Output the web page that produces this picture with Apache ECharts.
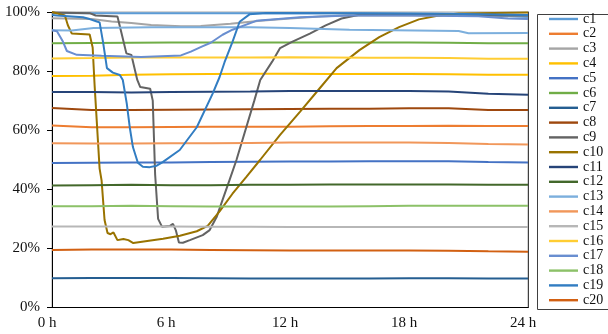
<!DOCTYPE html>
<html><head><meta charset="utf-8">
<script src="https://cdn.jsdelivr.net/npm/echarts@6/dist/echarts.min.js"></script>
<style>html,body{margin:0;padding:0;background:#fff}#c{width:608px;height:334px}</style>
</head><body><div id="c"></div>
<script>
const seriesNames = ['c1','c2','c3','c4','c5','c6','c7','c8','c9','c10','c11','c12','c13','c14','c15','c16','c17','c18','c19','c20'];
const xTicks = [0, 6, 12, 18, 24];
const xTickLabels = ['0 h', '6 h', '12 h', '18 h', '24 h'];
const yTicks = [0, 20, 40, 60, 80, 100];
const yTickLabels = ['0%', '20%', '40%', '60%', '80%', '100%'];

// flat series sampled every 2 h
const hoursFlat = [0, 2, 4, 6, 8, 10, 12, 14, 16, 18, 20, 22, 24];
const c1  = [99.7, 99.6, 99.6, 99.6, 99.6, 99.6, 99.6, 99.6, 99.5, 99.4, 99.3, 98.8, 98.3];
const c2  = [61.6, 61.0, 61.0, 61.1, 61.2, 61.2, 61.2, 61.3, 61.4, 61.4, 61.5, 61.4, 61.4];
const c4  = [78.3, 78.4, 78.8, 78.9, 79.0, 79.1, 79.1, 79.0, 79.0, 79.0, 78.9, 78.8, 78.8];
const c5  = [48.9, 49.0, 49.1, 49.1, 49.2, 49.3, 49.4, 49.4, 49.5, 49.5, 49.5, 49.2, 49.1];
const c6  = [89.4, 89.5, 89.6, 89.7, 89.7, 89.7, 89.7, 89.7, 89.7, 89.7, 89.6, 89.4, 89.4];
const c7  = [9.9, 10.0, 10.0, 10.0, 9.9, 9.8, 9.8, 9.8, 9.8, 9.9, 9.9, 9.8, 9.8];
const c8  = [67.5, 66.8, 66.8, 66.9, 67.0, 67.1, 67.2, 67.3, 67.3, 67.4, 67.4, 66.8, 66.8];
const c11 = [72.9, 72.9, 72.8, 72.9, 73.0, 73.1, 73.3, 73.3, 73.3, 73.3, 73.1, 72.3, 72.0];
const c12 = [41.3, 41.4, 41.5, 41.4, 41.4, 41.5, 41.5, 41.6, 41.6, 41.6, 41.6, 41.5, 41.5];
const c14 = [55.6, 55.5, 55.5, 55.6, 55.6, 55.7, 55.8, 55.8, 55.8, 55.8, 55.7, 55.3, 55.2];
const c15 = [27.4, 27.4, 27.4, 27.4, 27.3, 27.3, 27.2, 27.2, 27.2, 27.2, 27.2, 27.2, 27.2];
const c16 = [84.3, 84.4, 84.6, 84.6, 84.6, 84.6, 84.7, 84.6, 84.5, 84.5, 84.4, 84.2, 84.2];
const c18 = [34.3, 34.3, 34.4, 34.3, 34.2, 34.2, 34.2, 34.2, 34.3, 34.4, 34.4, 34.4, 34.4];
const c20 = [19.5, 19.6, 19.6, 19.6, 19.5, 19.4, 19.3, 19.3, 19.3, 19.3, 19.2, 19.0, 18.9];

// series with their own sample times
const c3Hours = [0, 2, 3, 4, 5, 6.5, 7.5, 9, 10.5, 12, 13.5, 15, 24];
const c3 = [97.9, 97.6, 96.8, 96.3, 95.6, 95.2, 95.3, 96.0, 97.0, 97.8, 98.5, 98.9, 98.8];

const c13Hours = [0, 1, 2.1, 5, 10, 12, 15, 20.5, 21, 24];
const c13 = [93.8, 93.7, 94.6, 94.8, 94.8, 94.6, 94.0, 93.6, 92.8, 92.9];

const c17Hours = [0, 0.25, 0.55, 0.75, 1.25, 2.5, 4.5, 6.5, 7, 7.55, 8, 8.6, 9.1, 10.3, 12.5, 15, 18, 21.5, 23, 24];
const c17 = [93.8, 93.5, 90.0, 86.8, 85.5, 85.2, 84.8, 85.3, 86.6, 88.3, 89.6, 92.3, 94.0, 97.0, 98.2, 98.8, 98.8, 98.6, 97.8, 97.6];

const c19Hours = [0, 0.25, 1.56, 1.9, 2.26, 2.4, 2.57, 2.77, 3.07, 3.42, 3.57, 3.77, 3.92, 4.08, 4.33, 4.58, 4.93, 5.28, 5.58, 6.44, 7.3, 8.1, 8.45, 8.7, 9.1, 9.46, 9.96, 10.8, 15, 20, 24];
const c19 = [99.0, 98.8, 98.2, 97.6, 96.8, 96.5, 90.0, 81.0, 79.5, 78.7, 77.0, 69.0, 61.0, 54.3, 49.0, 47.6, 47.5, 48.0, 49.2, 53.3, 61.0, 72.4, 78.0, 83.0, 89.9, 96.7, 99.2, 99.7, 99.6, 99.4, 99.0];

const c9Hours = [0, 1.9, 2.2, 3.3, 3.5, 3.75, 4.0, 4.3, 4.45, 4.95, 5.08, 5.2, 5.35, 5.55, 5.95, 6.1, 6.25, 6.4, 6.6, 6.95, 7.6, 7.95, 8.3, 8.6, 8.95, 9.3, 10.2, 10.5, 11.1, 11.5, 12.1, 13.0, 13.8, 14.6, 15.5, 24];
const c9 = [99.8, 99.6, 98.8, 98.5, 93.0, 86.0, 85.5, 77.0, 74.6, 74.0, 70.0, 45.0, 30.0, 27.3, 27.6, 28.3, 26.0, 22.0, 21.9, 22.8, 24.5, 26.2, 30.6, 36.4, 43.1, 49.9, 70.0, 77.0, 83.2, 87.8, 89.9, 92.7, 95.5, 97.8, 99.1, 98.8];

const c10Hours = [0, 0.65, 0.8, 1.0, 1.9, 2.05, 2.15, 2.4, 2.5, 2.65, 2.8, 2.95, 3.1, 3.3, 3.6, 3.85, 4.1, 4.8, 5.6, 6.45, 7.3, 7.85, 8.45, 9.1, 9.8, 10.5, 11.5, 12.5, 13.5, 14.35, 15.5, 16.5, 17.5, 18.5, 19.5, 20.5, 24];
const c10 = [100, 98.8, 95.5, 92.7, 92.4, 88.0, 75.0, 47.0, 43.0, 29.6, 25.2, 24.8, 25.4, 22.8, 23.2, 22.8, 21.8, 22.5, 23.3, 24.3, 25.8, 27.6, 32.5, 38.5, 44.2, 50.0, 58.4, 66.2, 74.2, 81.0, 87.1, 91.5, 94.9, 97.5, 98.8, 99.5, 99.8];

const colors = ['#5B9BD5','#ED7D31','#A5A5A5','#FFC000','#4472C4','#70AD47','#255E91','#9E480E','#636363','#997300',
                '#264478','#43682B','#7CAFDD','#F1975A','#B7B7B7','#FFCD33','#698ED0','#8CC168','#327DC2','#D26012'];

const pair = (hs, vs) => hs.map((h, i) => [h, vs[i]]);
const dataList = [
  pair(hoursFlat, c1), pair(hoursFlat, c2), pair(c3Hours, c3), pair(hoursFlat, c4), pair(hoursFlat, c5),
  pair(hoursFlat, c6), pair(hoursFlat, c7), pair(hoursFlat, c8), pair(c9Hours, c9), pair(c10Hours, c10),
  pair(hoursFlat, c11), pair(hoursFlat, c12), pair(c13Hours, c13), pair(hoursFlat, c14), pair(hoursFlat, c15),
  pair(hoursFlat, c16), pair(c17Hours, c17), pair(hoursFlat, c18), pair(c19Hours, c19), pair(hoursFlat, c20)
];

const FONT = 'Liberation Serif';
const chart = echarts.init(document.getElementById('c'), null, {renderer: 'canvas'});
chart.setOption({
  animation: false,
  color: colors,
  textStyle: {fontFamily: FONT},
  grid: {left: 52, right: 80, top: 12, bottom: 26.5, show: true, borderColor: '#A6A6A6', borderWidth: 1, backgroundColor: 'transparent'},
  xAxis: {
    type: 'value', min: 0, max: 24, interval: 6,
    axisLine: {lineStyle: {color: '#000', width: 1}},
    axisTick: {show: false},
    splitLine: {show: false},
    axisLabel: {
      color: '#111', fontFamily: FONT, fontSize: 15, margin: 8, padding: [0, 10, 0, 0],
      formatter: v => xTickLabels[xTicks.indexOf(v)]
    }
  },
  yAxis: [{
    type: 'value', min: 0, max: 100, interval: 20,
    axisLine: {show: true, lineStyle: {color: '#000', width: 1}},
    axisTick: {show: true, length: 5, lineStyle: {color: '#000'}},
    splitLine: {show: false},
    axisLabel: {
      color: '#111', fontFamily: FONT, fontSize: 15, margin: 12,
      formatter: v => yTickLabels[yTicks.indexOf(v)]
    }
  }, {
    type: 'value', min: 0, max: 100, interval: 20, position: 'right',
    axisLine: {show: true, lineStyle: {color: '#404040', width: 1}},
    axisTick: {show: false}, axisLabel: {show: false}, splitLine: {show: false}
  }],
  legend: {
    orient: 'vertical', left: 549, top: 12, padding: 0,
    itemWidth: 29, itemHeight: 14, itemGap: 0.8,
    icon: 'path://M0,0H29V2.4H0Z',
    data: seriesNames,
    textStyle: {fontFamily: FONT, fontSize: 14, color: '#111', lineHeight: 14}
  },
  graphic: [{
    type: 'rect', left: 535, top: 12, z: -1,
    shape: {width: 90, height: 295},
    style: {fill: 'none', stroke: '#404040', lineWidth: 1}
  }],
  series: seriesNames.map((name, i) => ({
    name, type: 'line', data: dataList[i], symbol: 'none', smooth: false,
    lineStyle: {width: 2, color: colors[i]}, itemStyle: {color: colors[i]}
  }))
});
</script>
</body></html>
